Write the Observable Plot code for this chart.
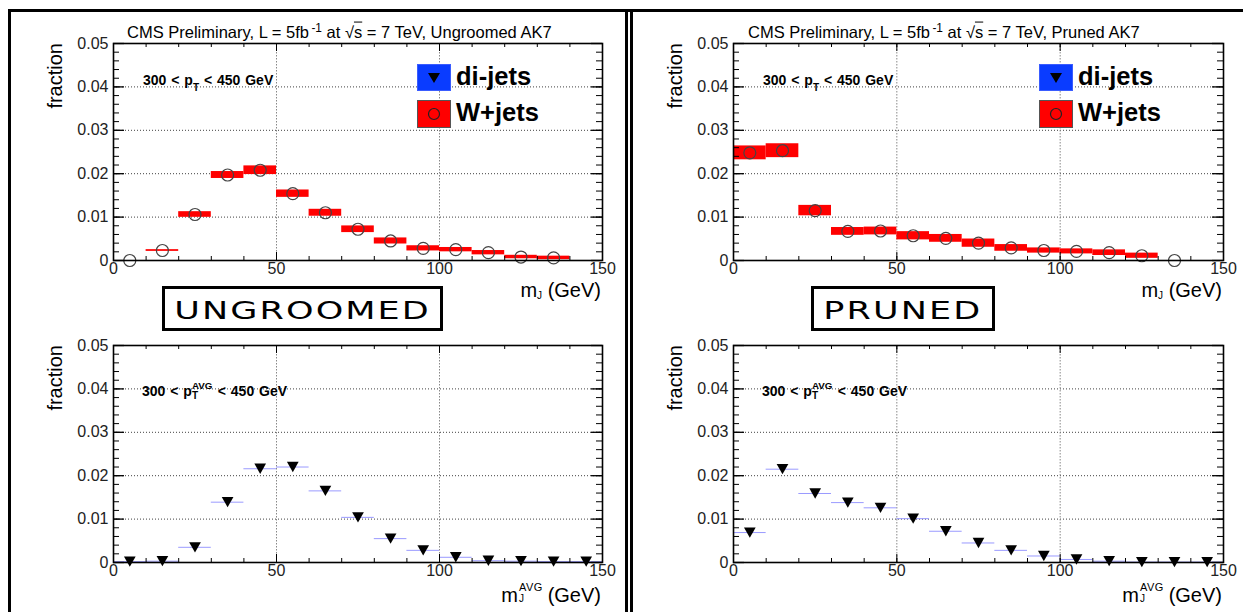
<!DOCTYPE html>
<html><head><meta charset="utf-8">
<script src="https://cdn.jsdelivr.net/npm/d3@7"></script>
<script src="https://cdn.jsdelivr.net/npm/@observablehq/plot@0.6"></script>
<style>
body{margin:0;background:#fff;}
#root{position:relative;width:1243px;height:612px;overflow:hidden;background:#fff;font-family:"Liberation Sans",Arial,Helvetica,sans-serif;color:#000;}
.abs{position:absolute;white-space:nowrap;line-height:1;}
.cy{transform:translateY(-50%);}
.sup{font-size:0.72em;position:relative;top:-0.5em;}
.sub{font-size:0.72em;position:relative;top:0.35em;}
.ol{text-decoration:overline;}
.pt{font-weight:bold;font-size:14px;word-spacing:1px;}
.pt .sub{top:0.55em;}
.leg{font-weight:bold;font-size:25.5px;}
.xl{font-size:20px;}
.frac{font-size:20px;writing-mode:vertical-rl;transform:rotate(180deg);line-height:20px;width:20px;}
.box{position:absolute;border:3px solid #000;box-sizing:border-box;display:flex;align-items:center;justify-content:center;background:#fff;padding-top:3px;}
.box span{font-family:"DejaVu Sans",sans-serif;font-size:25px;letter-spacing:1.5px;display:inline-block;transform:scaleX(1.4);}
.line{position:absolute;background:#000;}
.stack{position:relative;display:inline-block;}
.stack .a{position:absolute;left:0;line-height:1;}
</style>
</head><body><div id="root"></div>
<script>
// ---- data ----
const wjetBinLow = [0,10,20,30,40,50,60,70,80,90,100,110,120,130];
const ungroomedWjets    = [0, 0.0023, 0.0106, 0.0197, 0.0208, 0.0154, 0.0110, 0.0072, 0.0045, 0.0028, 0.0025, 0.0018, 0.0008, 0.0006];
const ungroomedWjetsErr = [0, 0.0002, 0.00065, 0.0008, 0.0010, 0.00085, 0.0008, 0.00077, 0.0007, 0.0006, 0.0005, 0.0005, 0.0004, 0.0004];
const prunedWjets    = [0.0248, 0.0253, 0.0115, 0.0067, 0.0068, 0.0057, 0.0051, 0.0040, 0.0029, 0.0023, 0.0021, 0.0018, 0.0011, 0];
const prunedWjetsErr = [0.0016, 0.0016, 0.0012, 0.0009, 0.0009, 0.00095, 0.0009, 0.00095, 0.00077, 0.0006, 0.00058, 0.00065, 0.0006, 0];
const dijetBinLow = [0,10,20,30,40,50,60,70,80,90,100,110,120,130,140];
const ungroomedDijets = [0.0002, 0.0003, 0.0035, 0.0139, 0.0216, 0.0220, 0.0165, 0.0104, 0.0055, 0.0028, 0.0012, 0.0004, 0.0003, 0.0002, 0.0002];
const prunedDijets    = [0.0069, 0.0215, 0.0159, 0.0138, 0.0126, 0.0101, 0.0072, 0.0045, 0.0028, 0.0015, 0.0007, 0.0003, 0.0001, 0.0001, 0.0001];
const binWidth = 10;
const xTicks = [0, 50, 100, 150];
const xTickLabels = ["0", "50", "100", "150"];
const yTicks = [0, 0.01, 0.02, 0.03, 0.04, 0.05];
const yTickLabels = ["0", "0.01", "0.02", "0.03", "0.04", "0.05"];
const yGrid = [0.01, 0.02, 0.03, 0.04];
const xGrid = [50, 100];
const yMinor = Array.from({length: 26}, (_, i) => i * 0.002);
const xMinor = Array.from({length: 16}, (_, i) => i * 10);

const root = document.getElementById("root");

const triDown = {
  draw(context, size) {
    const r = Math.sqrt(size / Math.PI);
    const w = r * 1.3, h = r * 1.15;
    context.moveTo(-w, -h);
    context.lineTo(w, -h);
    context.lineTo(0, h);
    context.closePath();
  }
};

function panel({left, top, width, height, mL, mR, mT, mB, marks}) {
  const innerW = width - mL - mR, innerH = height - mT - mB;
  const chart = Plot.plot({
    width, height, marginLeft: mL, marginRight: mR, marginTop: mT, marginBottom: mB,
    x: {domain: [0, 150], axis: null},
    y: {domain: [0, 0.05], axis: null},
    style: {fontFamily: '"Liberation Sans", Arial, sans-serif', fontSize: "16px", background: "transparent", overflow: "visible", color: "#222"},
    marks: [
      Plot.ruleY(yGrid, {y: d => d, stroke: "#000", strokeOpacity: 0.75, strokeDasharray: "1,2"}),
      Plot.ruleX(xGrid, {x: d => d, stroke: "#888", strokeDasharray: "1.5,1.5"}),
      ...marks,
      Plot.tickY(yMinor, {y: d => d, insetRight: innerW - 6, stroke: "#000"}),
      Plot.tickY(yMinor, {y: d => d, insetLeft: innerW - 6, stroke: "#000"}),
      Plot.tickY(yTicks, {y: d => d, insetRight: innerW - 11, stroke: "#000", strokeWidth: 1.3}),
      Plot.tickY(yTicks, {y: d => d, insetLeft: innerW - 11, stroke: "#000", strokeWidth: 1.3}),
      Plot.tickX(xMinor, {x: d => d, insetTop: innerH - 4, stroke: "#000"}),
      Plot.tickX(xMinor, {x: d => d, insetBottom: innerH - 4, stroke: "#000"}),
      Plot.tickX(xTicks, {x: d => d, insetTop: innerH - 8, stroke: "#000"}),
      Plot.tickX(xTicks, {x: d => d, insetBottom: innerH - 8, stroke: "#000"}),
      Plot.frame({stroke: "#000", strokeWidth: 1.6}),
      Plot.text(yTicks, {y: d => d, text: (d, i) => yTickLabels[i], frameAnchor: "left", textAnchor: "end", dx: -5, fontSize: 16, fill: "#222"}),
      Plot.text(xTicks, {x: d => d, text: (d, i) => xTickLabels[i], frameAnchor: "bottom", dy: 13, fontSize: 16, fill: "#222"})
    ]
  });
  chart.style.position = "absolute";
  chart.style.left = left + "px";
  chart.style.top = top + "px";
  root.appendChild(chart);
}

function wjetMarks(vals, errs) {
  const data = wjetBinLow.map((lo, i) => ({lo, v: vals[i], e: errs[i]}));
  return [
    Plot.rect(data.filter(d => d.e > 0), {x1: d => d.lo, x2: d => d.lo + binWidth, y1: d => d.v - d.e, y2: d => d.v + d.e, fill: "#ff0000"}),
    Plot.dot(data, {x: d => d.lo + binWidth / 2, y: d => d.v, r: 6, stroke: "#444", strokeWidth: 1.2, fill: "none"})
  ];
}
function dijetMarks(vals) {
  const data = dijetBinLow.map((lo, i) => ({lo, v: vals[i]}));
  return [
    Plot.ruleY(data, {y: d => d.v, x1: d => d.lo, x2: d => d.lo + binWidth, stroke: "#9a9aff", strokeWidth: 1}),
    Plot.dot(data, {x: d => d.lo + binWidth / 2, y: d => d.v, r: 4.5, symbol: triDown, fill: "#000", stroke: "none"})
  ];
}

panel({left: 0, top: 0, width: 630, height: 300, mL: 113, mR: 28, mT: 43, mB: 40, marks: wjetMarks(ungroomedWjets, ungroomedWjetsErr)});
panel({left: 630, top: 0, width: 613, height: 300, mL: 103, mR: 20, mT: 43, mB: 40, marks: wjetMarks(prunedWjets, prunedWjetsErr)});
panel({left: 0, top: 300, width: 630, height: 312, mL: 113, mR: 28, mT: 45, mB: 50, marks: dijetMarks(ungroomedDijets)});
panel({left: 630, top: 300, width: 613, height: 312, mL: 103, mR: 20, mT: 45, mB: 50, marks: dijetMarks(prunedDijets)});

// ---- text & decorations ----
function add(html) { root.insertAdjacentHTML("beforeend", html); }
const title = (x, name) => add(`<div class="abs cy" style="left:${x}px;top:32px;font-size:16.5px;">CMS Preliminary, L = 5fb<span class="sup">&#8201;-1</span> at &#8730;<span class="ol">s</span> = 7 TeV, ${name}</div>`);
title(127, "Ungroomed AK7");
title(748, "Pruned AK7");

const ptText = (x, y) => add(`<div class="abs cy pt" style="left:${x}px;top:${y}px;">300 &lt; p<span class="sub">T</span> &lt; 450 GeV</div>`);
ptText(143, 80); ptText(763, 80);
const ptAvg = (x, y) => add(`<div class="abs cy pt" style="left:${x}px;top:${y}px;">300 &lt; p<span class="stack" style="width:21px;height:1em;"><span class="a" style="top:-0.1em;font-size:0.7em;">AVG</span><span class="a" style="top:0.9em;font-size:0.72em;">T</span></span> &lt; 450 GeV</div>`);
ptAvg(142, 390); ptAvg(762, 390);

const legend = (x) => {
  add(`<div class="abs" style="left:${x}px;top:65px;width:32px;height:25px;background:#0a3cff;box-shadow:0 0 0 1px #3a5cff;"><svg width="32" height="25" style="position:absolute;left:0;top:0"><polygon points="10,8 22,8 16,18" fill="#000"/></svg></div>`);
  add(`<div class="abs" style="left:${x}px;top:101px;width:32px;height:26px;background:#ff0000;box-shadow:0 0 0 1px #555;"><svg width="32" height="26" style="position:absolute;left:0;top:0"><circle cx="16" cy="13" r="5.5" fill="none" stroke="#222" stroke-width="1.2"/></svg></div>`);
  add(`<div class="abs cy leg" style="left:${x + 38}px;top:77px;">di-jets</div>`);
  add(`<div class="abs cy leg" style="left:${x + 38}px;top:113px;">W+jets</div>`);
};
legend(418); legend(1040);

const xLab = (right, y) => add(`<div class="abs cy xl" style="right:${1243 - right}px;top:${y}px;">m<span class="sub" style="font-size:0.5em;top:0.2em">J</span> (GeV)</div>`);
xLab(601, 290); xLab(1222, 290);
// m_J^AVG (GeV): separate pieces so the stacked scripts do not overlap
const xLabAvg = (right) => {
  const sx = right - 82;
  add(`<div class="abs cy xl" style="right:${1243 - right}px;top:595px;">(GeV)</div>`);
  add(`<div class="abs cy xl" style="right:${1243 - sx + 1}px;top:595px;">m</div>`);
  add(`<div class="abs" style="left:${sx}px;top:582px;font-size:11px;letter-spacing:0.5px;">AVG</div>`);
  add(`<div class="abs" style="left:${sx}px;top:594px;font-size:10px;">J</div>`);
};
xLabAvg(601); xLabAvg(1222);

const frac = (x, y) => add(`<div class="abs frac" style="left:${x}px;top:${y}px;">fraction</div>`);
frac(45, 43); frac(665, 43); frac(45, 345); frac(665, 345);

add(`<div class="box" style="left:162px;top:286px;width:281px;height:45px;"><span>UNGROOMED</span></div>`);
add(`<div class="box" style="left:811px;top:286px;width:184px;height:45px;"><span>PRUNED</span></div>`);

add(`<div class="line" style="left:8px;top:9px;width:1235px;height:3px;"></div>`);
add(`<div class="line" style="left:8px;top:9px;width:3px;height:603px;"></div>`);
add(`<div class="line" style="left:625px;top:9px;width:3px;height:603px;"></div>`);
add(`<div class="line" style="left:630px;top:9px;width:2.5px;height:603px;"></div>`);
</script>
</body></html>
